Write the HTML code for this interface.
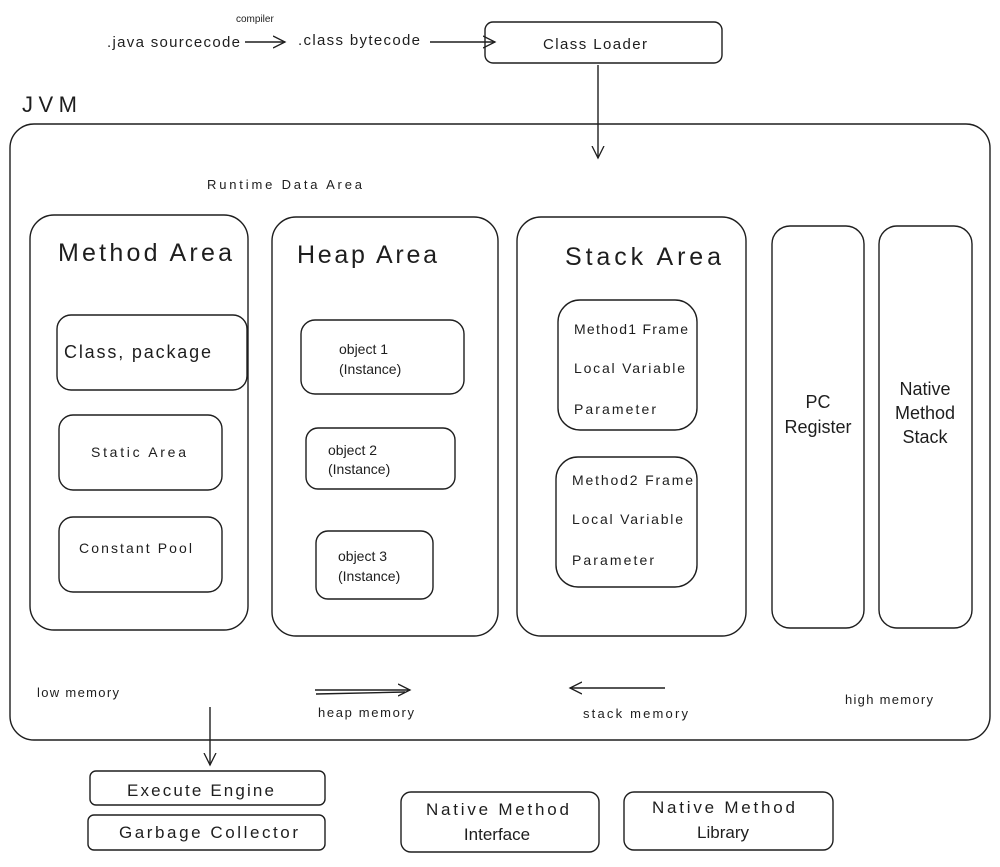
<!DOCTYPE html>
<html><head><meta charset="utf-8"><style>
html,body{margin:0;padding:0;background:#fff;}
svg text{font-family:"Liberation Sans",sans-serif;fill:#1e1e1e;}
</style></head><body>
<svg width="1000" height="862" viewBox="0 0 1000 862" xmlns="http://www.w3.org/2000/svg">
<defs><marker id="a" markerWidth="14" markerHeight="14" refX="12" refY="7" orient="auto" markerUnits="userSpaceOnUse"><path d="M0,1 L12,7 L0,13" fill="none" stroke="#1e1e1e" stroke-width="1.3"/></marker></defs>
<g fill="none" stroke="#1e1e1e" stroke-width="1.4">
<rect x="485" y="22" width="237" height="41" rx="8"/>
<rect x="10" y="124" width="980" height="616" rx="24"/>
<rect x="30" y="215" width="218" height="415" rx="24"/>
<rect x="57" y="315" width="190" height="75" rx="14"/>
<rect x="59" y="415" width="163" height="75" rx="14"/>
<rect x="59" y="517" width="163" height="75" rx="14"/>
<rect x="272" y="217" width="226" height="419" rx="24"/>
<rect x="301" y="320" width="163" height="74" rx="14"/>
<rect x="306" y="428" width="149" height="61" rx="12"/>
<rect x="316" y="531" width="117" height="68" rx="12"/>
<rect x="517" y="217" width="229" height="419" rx="24"/>
<rect x="558" y="300" width="139" height="130" rx="22"/>
<rect x="556" y="457" width="141" height="130" rx="22"/>
<rect x="772" y="226" width="92" height="402" rx="18"/>
<rect x="879" y="226" width="93" height="402" rx="18"/>
<rect x="90" y="771" width="235" height="34" rx="6"/>
<rect x="88" y="815" width="237" height="35" rx="6"/>
<rect x="401" y="792" width="198" height="60" rx="10"/>
<rect x="624" y="792" width="209" height="58" rx="10"/>
<line x1="245" y1="42" x2="285" y2="42" marker-end="url(#a)"/>
<line x1="430" y1="42" x2="495" y2="42" marker-end="url(#a)"/>
<line x1="598" y1="65" x2="598" y2="158" marker-end="url(#a)"/>
<line x1="315" y1="690" x2="410" y2="690" marker-end="url(#a)"/>
<line x1="316" y1="694" x2="405" y2="692"/>
<line x1="665" y1="688" x2="570" y2="688" marker-end="url(#a)"/>
<line x1="210" y1="707" x2="210" y2="765" marker-end="url(#a)"/>
</g>
<text x="107" y="47" font-size="15" textLength="133">.java sourcecode</text>
<text x="236" y="22" font-size="10">compiler</text>
<text x="298" y="45" font-size="15" textLength="122">.class bytecode</text>
<text x="543" y="49" font-size="15" textLength="104">Class Loader</text>
<text x="22" y="112" font-size="22" textLength="55">JVM</text>
<text x="207" y="189" font-size="13" textLength="155">Runtime Data Area</text>
<text x="58" y="261" font-size="25" textLength="174">Method Area</text>
<text x="64" y="358" font-size="18" textLength="147">Class, package</text>
<text x="91" y="457" font-size="14" textLength="95">Static Area</text>
<text x="79" y="553" font-size="14" textLength="113">Constant Pool</text>
<text x="297" y="263" font-size="25" textLength="140">Heap Area</text>
<text x="339" y="354" font-size="14">object 1</text>
<text x="339" y="374" font-size="14">(Instance)</text>
<text x="328" y="455" font-size="14">object 2</text>
<text x="328" y="474" font-size="14">(Instance)</text>
<text x="338" y="561" font-size="14">object 3</text>
<text x="338" y="581" font-size="14">(Instance)</text>
<text x="565" y="265" font-size="25" textLength="156">Stack Area</text>
<text x="574" y="334" font-size="14" textLength="114">Method1 Frame</text>
<text x="574" y="373" font-size="14" textLength="111">Local Variable</text>
<text x="574" y="414" font-size="14" textLength="82">Parameter</text>
<text x="572" y="485" font-size="14" textLength="121">Method2 Frame</text>
<text x="572" y="524" font-size="14" textLength="111">Local Variable</text>
<text x="572" y="565" font-size="14" textLength="82">Parameter</text>
<text x="818" y="408" font-size="18" text-anchor="middle">PC</text>
<text x="818" y="433" font-size="18" text-anchor="middle">Register</text>
<text x="925" y="395" font-size="18" text-anchor="middle">Native</text>
<text x="925" y="419" font-size="18" text-anchor="middle">Method</text>
<text x="925" y="443" font-size="18" text-anchor="middle">Stack</text>
<text x="37" y="697" font-size="13" textLength="82">low memory</text>
<text x="318" y="717" font-size="13" textLength="96">heap memory</text>
<text x="583" y="718" font-size="13" textLength="105">stack memory</text>
<text x="845" y="704" font-size="13" textLength="88">high memory</text>
<text x="127" y="796" font-size="17" textLength="147">Execute Engine</text>
<text x="119" y="838" font-size="17" textLength="179">Garbage Collector</text>
<text x="426" y="815" font-size="17" textLength="143">Native Method</text>
<text x="497" y="840" font-size="17" text-anchor="middle">Interface</text>
<text x="652" y="813" font-size="17" textLength="143">Native Method</text>
<text x="723" y="838" font-size="17" text-anchor="middle">Library</text>
</svg>
</body></html>
